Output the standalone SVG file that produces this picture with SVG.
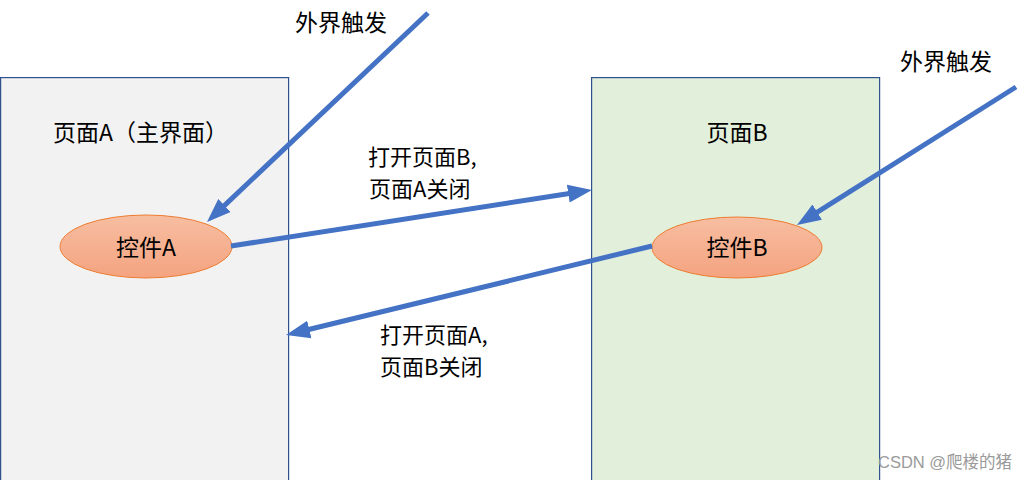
<svg xmlns="http://www.w3.org/2000/svg" width="1032" height="480" viewBox="0 0 1032 480">
<style>
.t{font-family:"Noto Sans CJK SC","Microsoft YaHei",sans-serif;font-size:23px;fill:#000}
.lb{font-family:"Noto Sans CJK SC","Microsoft YaHei",sans-serif;font-size:22px;fill:#000}
.page{stroke:#2f528f;stroke-width:1.2}
.ctl{stroke:#ed7d31;stroke-width:1;fill:url(#og)}
.arr{stroke:#4472c4;stroke-width:5;fill:none;marker-end:url(#ah)}
.wm{font-family:"Liberation Sans","Noto Sans CJK SC",sans-serif;font-size:16.5px;fill:#9a9a9a}
</style>
<defs>
<linearGradient id="og" x1="0" y1="0" x2="0" y2="1">
<stop offset="0" stop-color="#f7bea1"/>
<stop offset="1" stop-color="#f4a380"/>
</linearGradient>
<marker id="ah" markerUnits="userSpaceOnUse" markerWidth="24" markerHeight="20" viewBox="0 0 24 20" refX="6" refY="10" orient="auto">
<path d="M0,1 L24,10 L0,19 z" fill="#4472c4"/>
</marker>
</defs>
<rect width="1032" height="480" fill="#fff"/>
<g id="pageA">
<rect class="page" x="0.6" y="77.6" width="288" height="410" fill="#f2f2f2"/>
<text class="t" x="53" y="141">页面A（主界面）</text>
</g>
<g id="pageB">
<rect class="page" x="591.6" y="77.6" width="288" height="410" fill="#e2efda"/>
<text class="t" x="737" y="141" text-anchor="middle">页面B</text>
</g>
<g id="ctlA">
<ellipse class="ctl" cx="146" cy="246.5" rx="86" ry="31.5"/>
<text class="t" x="146" y="256" text-anchor="middle">控件A</text>
</g>
<g id="ctlB">
<ellipse class="ctl" cx="737" cy="247.5" rx="85" ry="30.5"/>
<text class="t" x="737" y="256" text-anchor="middle">控件B</text>
</g>
<g id="trigA">
<text class="t" x="295" y="31">外界触发</text>
</g>
<g id="trigB">
<text class="t" x="900" y="70">外界触发</text>
</g>
<g id="connectors">
<line class="arr" x1="428" y1="13" x2="220.1" y2="209.6"/>
<line class="arr" x1="1016" y1="87" x2="812.2" y2="215.4"/>
<line class="arr" x1="231" y1="246" x2="574.2" y2="192.8"/>
<line class="arr" x1="652" y1="246" x2="303.5" y2="330.8"/>
</g>
<g id="labels">
<text class="lb" x="368" y="165">打开页面B,</text>
<text class="lb" x="369" y="197">页面A关闭</text>
<text class="lb" x="380" y="343">打开页面A,</text>
<text class="lb" x="380" y="375">页面B关闭</text>
</g>
<text class="wm" x="878" y="468">CSDN @爬楼的猪</text>
</svg>
